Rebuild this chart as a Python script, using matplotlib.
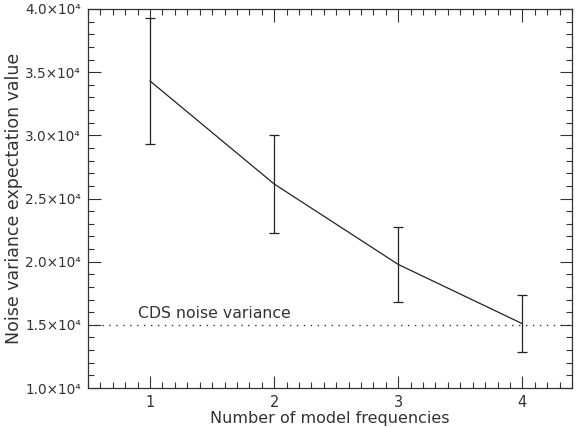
import matplotlib
matplotlib.use("Agg")
import matplotlib.pyplot as plt
from matplotlib.ticker import MultipleLocator, FuncFormatter

# Data
n_freq = [1, 2, 3, 4]
noise_var = [34300, 26150, 19780, 15090]
noise_err = [5000, 3870, 2950, 2260]
cds_noise = 15000

plt.rcParams['font.family'] = ['DejaVu Sans']
plt.rcParams['font.size'] = 10.5

fig = plt.figure(figsize=(5.82, 4.28), dpi=100)
ax = fig.add_axes([88/582, 1 - 388/428, (572 - 88)/582, (388 - 9)/428])

ax.errorbar(n_freq, noise_var, yerr=noise_err, color='#222222', lw=0.9,
            elinewidth=0.9, capsize=3.5, capthick=0.9)
ax.axhline(cds_noise, color='#333333', lw=1.0, linestyle=(0, (1, 4)))
ax.text(0.9, cds_noise + 300, "CDS noise variance", color='#333333',
        fontsize=11.3, va='bottom', ha='left')

ax.set_xlim(0.5, 4.4)
ax.set_ylim(10000, 40000)

ax.xaxis.set_major_locator(MultipleLocator(1))
ax.xaxis.set_minor_locator(MultipleLocator(0.1))
ax.yaxis.set_major_locator(MultipleLocator(5000))
ax.yaxis.set_minor_locator(MultipleLocator(1000))


def sci_fmt(v, pos):
    return "%.1f\u00d710\u2074" % (v / 1e4)


ax.yaxis.set_major_formatter(FuncFormatter(sci_fmt))

ax.tick_params(which='both', direction='in', top=True, right=True,
               colors='#333333', width=0.8, labelcolor='#333333')
ax.tick_params(which='major', length=9, pad=5)
ax.tick_params(which='minor', length=4.5)
ax.tick_params(axis='y', labelsize=9.8)
for s in ax.spines.values():
    s.set_color('#333333')
    s.set_linewidth(0.9)

ax.set_xlabel("Number of model frequencies", color='#333333', labelpad=1,
              fontsize=11.5)
ax.set_ylabel("Noise variance expectation value", color='#333333',
              fontsize=12.5)
ax.yaxis.set_label_coords(-65/484, 0.5)

fig.savefig("out.png", dpi=100)
